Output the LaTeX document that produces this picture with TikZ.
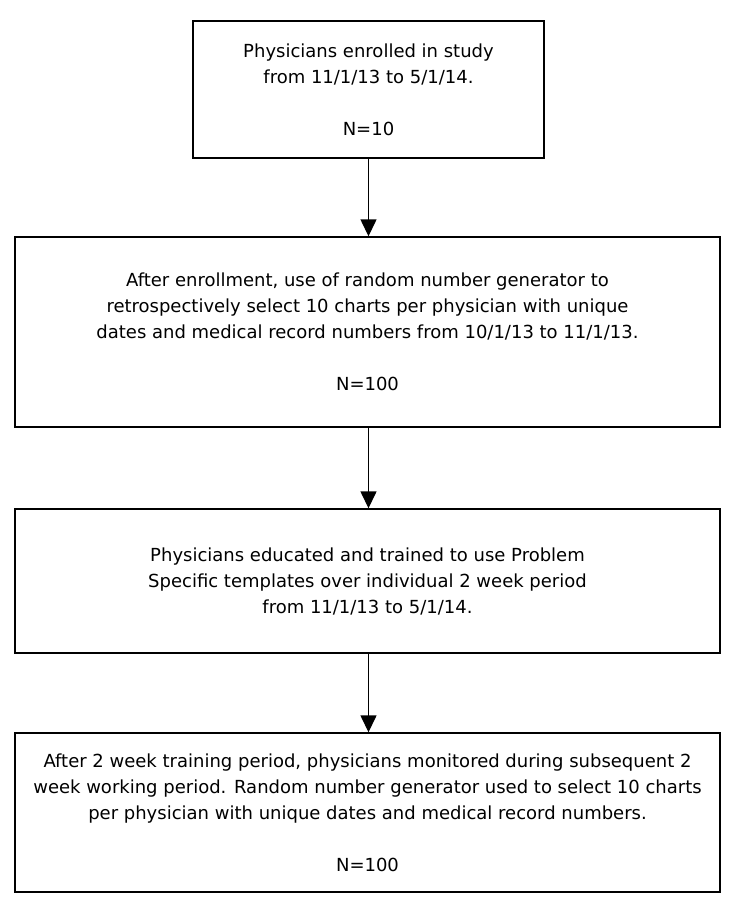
\documentclass[tikz,border=0pt]{standalone}
\usepackage{fontspec}
\setmainfont{DejaVu Sans}
\usetikzlibrary{arrows.meta}
\begin{document}
\begin{tikzpicture}[x=1pt,y=-1pt,
  box/.style={draw=black,line width=1.4pt,minimum height=#1,inner sep=0pt,align=center,
    font=\fontsize{18}{26}\selectfont},
  flow/.style={draw=black,line width=1.4pt,-{Triangle[width=16pt,length=17pt]}}]
\useasboundingbox[fill=white] (0,0) rectangle (735,913);
\node[box=137pt,minimum width=351pt] (b1) at (368.5,89.5)
  {Physicians enrolled in study\\from 11/1/13 to 5/1/14.\\[26pt]N=10};
\node[box=190pt,minimum width=705pt] (b2) at (367.5,332)
  {After enrollment, use of random number generator to\\retrospectively select 10 charts per physician with unique\\dates and medical record numbers from 10/1/13 to 11/1/13.\\[26pt]N=100};
\node[box=144pt,minimum width=705pt] (b3) at (367.5,581)
  {Physicians educated and trained to use Problem\\Specific templates over individual 2 week period\\from 11/1/13 to 5/1/14.};
\node[box=159pt,minimum width=705pt] (b4) at (367.5,812.5)
  {After 2 week training period, physicians monitored during subsequent 2\\week working period. Random number generator used to select 10 charts\\per physician with unique dates and medical record numbers.\\[26pt]N=100};
\draw[flow] (b1.south) -- (b1.south |- b2.north);
\draw[flow] (b1.south |- b2.south) -- (b1.south |- b3.north);
\draw[flow] (b1.south |- b3.south) -- (b1.south |- b4.north);
\end{tikzpicture}
\end{document}
